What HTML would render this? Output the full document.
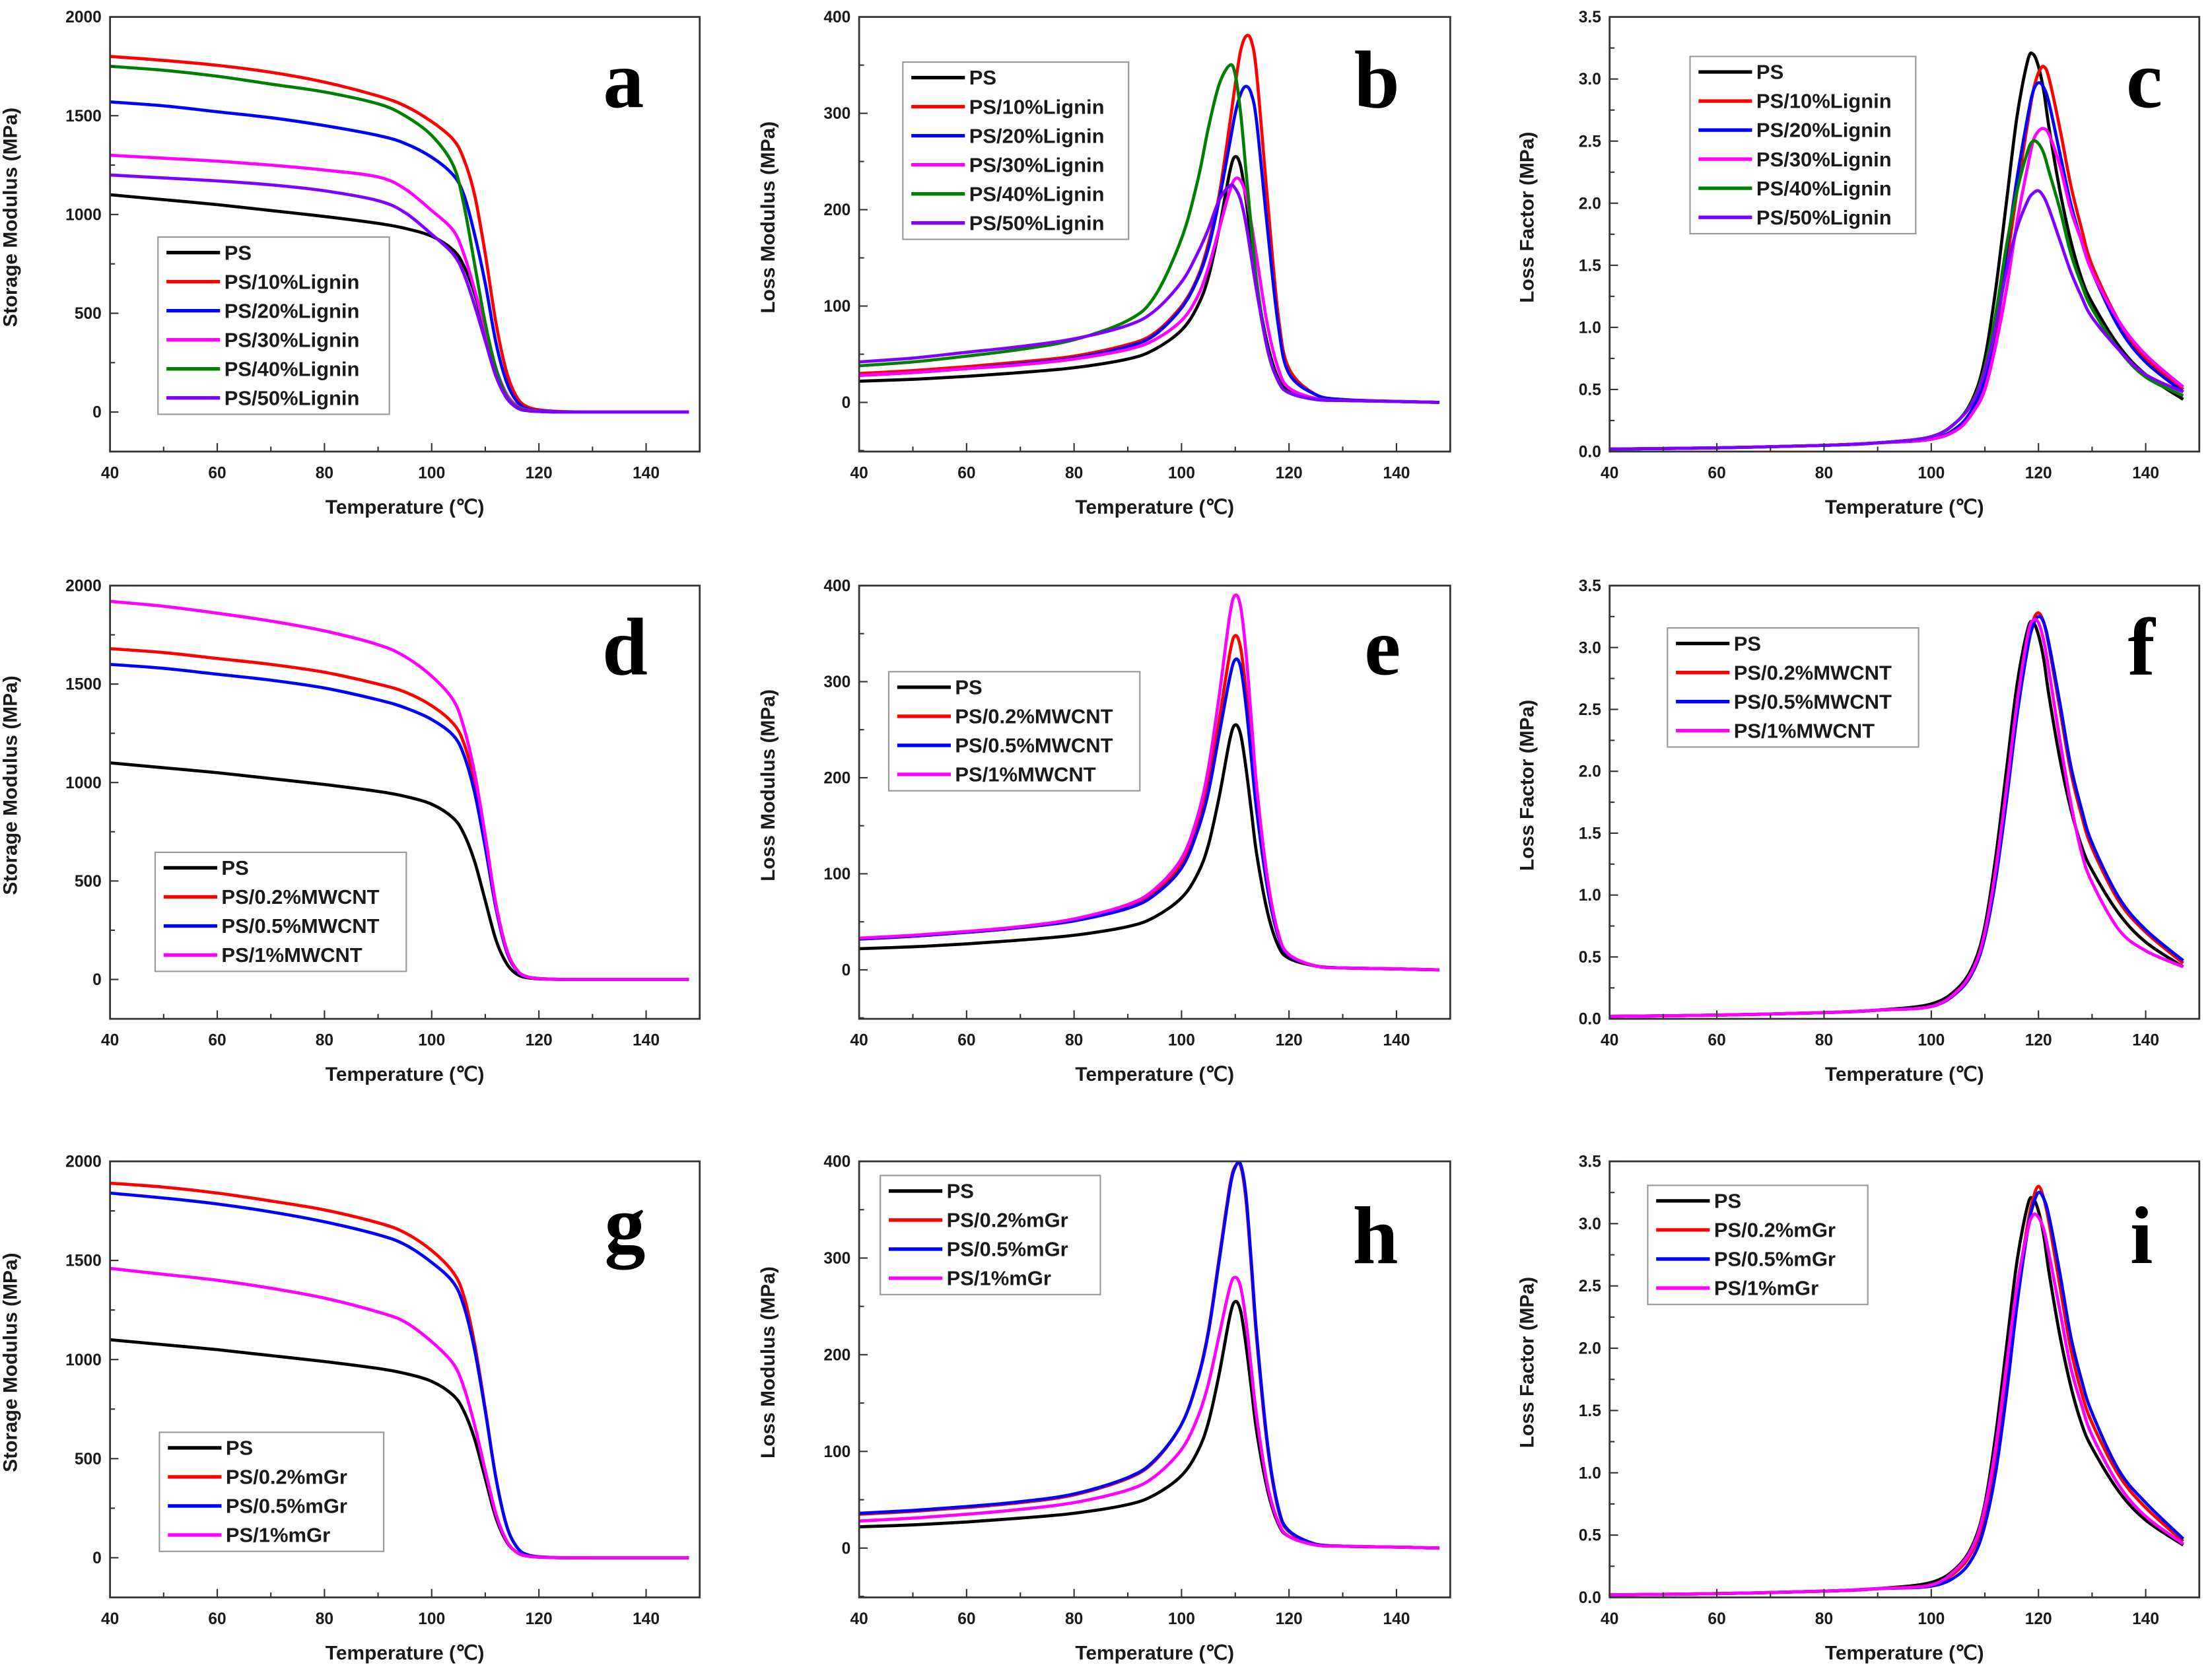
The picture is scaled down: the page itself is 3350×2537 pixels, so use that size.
<!DOCTYPE html>
<html><head><meta charset="utf-8"><style>
html,body{margin:0;padding:0;background:#fff;}
svg{display:block;}
text{font-family:"Liberation Sans",Arial,sans-serif;font-weight:bold;fill:#1a1a1a;}
</style></head><body>
<svg id="fig" width="3350" height="2537" viewBox="0 0 1568 1187" preserveAspectRatio="none" xmlns="http://www.w3.org/2000/svg"></svg>
<script>
// ---- data ----
const tStorage = [40,50,60,70,80,90,95,100,104,106,108,110,112,114,116,118,121,125,130,140,148];
const tLoss = [40,50,60,70,80,90,95,100,103,105,107,109,110,111,112,113,114,116,118,120,125,130,140,148];
const tFactor = [40,60,80,90,100,105,108,110,112,114,116,118,119,120,121,122,124,126,128,130,135,140,147];

const sPS = [1100,1075,1050,1020,990,955,930,890,820,740,600,400,200,80,25,8,2,0,0,0,0];
const sL10 = [1800,1780,1755,1720,1670,1600,1550,1470,1380,1280,1100,800,450,200,70,25,8,2,0,0,0];
const sL20 = [1570,1550,1520,1490,1450,1400,1360,1290,1200,1100,900,650,350,150,50,15,5,0,0,0,0];
const sL30 = [1300,1285,1270,1250,1225,1190,1130,1020,920,800,620,420,220,90,30,10,3,0,0,0,0];
const sL40 = [1750,1730,1700,1660,1620,1560,1500,1400,1250,1050,750,450,220,80,25,8,2,0,0,0,0];
const sL50 = [1200,1185,1170,1150,1120,1070,1010,900,800,700,540,360,180,70,20,6,2,0,0,0,0];
const sC02 = [1680,1660,1630,1600,1560,1500,1460,1390,1300,1200,1000,700,380,150,45,12,3,0,0,0,0];
const sC05 = [1600,1580,1550,1520,1480,1420,1380,1320,1240,1140,950,670,360,140,42,12,3,0,0,0,0];
const sC1 = [1920,1895,1860,1820,1770,1700,1640,1540,1420,1280,1050,730,380,150,45,12,3,0,0,0,0];
const sG02 = [1890,1870,1840,1800,1755,1690,1640,1550,1440,1320,1080,750,400,160,50,14,3,0,0,0,0];
const sG05 = [1840,1815,1785,1745,1695,1630,1580,1490,1390,1270,1050,740,400,160,50,14,3,0,0,0,0];
const sG1 = [1460,1430,1400,1360,1310,1240,1190,1090,980,860,670,440,220,85,25,8,2,0,0,0,0];

const lPS = [22,24,27,31,36,45,55,75,100,130,180,240,255,245,210,165,120,60,25,12,4,2,1,0];
const lL10 = [30,33,37,42,48,60,72,100,130,165,215,290,330,365,380,375,340,210,90,35,8,3,1,0];
const lL20 = [28,31,35,40,46,58,70,98,128,160,210,270,300,320,328,320,290,180,80,30,8,3,1,0];
const lL30 = [28,31,35,39,45,55,65,85,110,140,180,220,232,230,215,185,150,80,35,15,4,2,1,0];
const lL40 = [38,42,48,55,65,85,110,170,230,285,330,350,340,300,240,180,125,55,22,10,3,2,1,0];
const lL50 = [42,46,52,58,66,80,95,125,155,180,210,225,222,210,185,150,115,55,22,10,3,2,1,0];
const lC02 = [32,35,39,44,51,65,80,110,150,195,260,330,348,335,290,230,170,85,35,15,4,2,1,0];
const lC05 = [32,35,39,44,51,64,78,106,145,185,245,305,323,315,275,220,165,85,35,15,4,2,1,0];
const lC1 = [33,36,40,45,53,68,84,116,160,210,285,370,390,378,330,260,190,95,38,16,4,2,1,0];
const lG02 = [35,38,42,47,55,72,90,128,175,225,300,375,395,395,360,290,215,105,40,17,4,2,1,0];
const lG05 = [36,39,43,48,56,73,91,128,174,223,297,372,394,397,365,295,220,108,42,18,4,2,1,0];
const lG1 = [28,31,35,40,47,60,74,102,135,170,220,270,280,270,235,185,135,65,27,12,3,2,1,0];

const fPS = [.02,.03,.05,.07,.12,.25,.45,.75,1.3,2.0,2.7,3.15,3.2,3.1,2.9,2.6,2.1,1.7,1.4,1.2,.85,.62,.42];
const fL10 = [.02,.03,.05,.07,.1,.2,.35,.55,.95,1.5,2.1,2.65,2.9,3.05,3.1,3.0,2.6,2.15,1.8,1.5,1.05,.75,.5];
const fL20 = [.02,.03,.05,.07,.1,.2,.37,.6,1.0,1.6,2.2,2.7,2.9,2.97,2.93,2.8,2.4,2.0,1.7,1.45,1.0,.72,.48];
const fL30 = [.02,.03,.05,.07,.1,.18,.33,.5,.85,1.3,1.85,2.3,2.5,2.58,2.6,2.55,2.3,1.95,1.7,1.45,1.05,.78,.52];
const fL40 = [.02,.03,.05,.07,.12,.25,.43,.68,1.1,1.65,2.1,2.42,2.5,2.48,2.4,2.25,1.95,1.6,1.35,1.15,.82,.6,.45];
const fL50 = [.02,.03,.05,.07,.12,.25,.42,.65,1.0,1.45,1.8,2.02,2.08,2.1,2.05,1.95,1.7,1.45,1.25,1.08,.82,.62,.48];
const fC02 = [.02,.03,.05,.07,.1,.22,.4,.68,1.15,1.8,2.5,3.05,3.22,3.28,3.2,3.0,2.5,2.0,1.65,1.38,.95,.7,.45];
const fC05 = [.02,.03,.05,.07,.1,.22,.4,.66,1.12,1.75,2.45,3.0,3.18,3.25,3.2,3.02,2.55,2.05,1.7,1.42,.98,.72,.47];
const fC1 = [.02,.03,.05,.07,.1,.23,.42,.7,1.2,1.85,2.55,3.1,3.22,3.2,3.05,2.8,2.25,1.75,1.35,1.1,.72,.55,.42];
const fG02 = [.02,.03,.05,.07,.1,.22,.4,.66,1.12,1.75,2.45,3.0,3.2,3.3,3.2,3.0,2.5,2.0,1.65,1.4,.98,.72,.45];
const fG05 = [.02,.03,.05,.07,.09,.18,.34,.58,1.0,1.62,2.35,2.95,3.15,3.25,3.2,3.05,2.6,2.1,1.75,1.48,1.02,.76,.47];
const fG1 = [.02,.03,.05,.07,.1,.24,.43,.72,1.2,1.85,2.5,2.95,3.07,3.05,2.95,2.75,2.3,1.85,1.55,1.3,.9,.65,.43];

const namesLignin = ["PS","PS/10%Lignin","PS/20%Lignin","PS/30%Lignin","PS/40%Lignin","PS/50%Lignin"];
const namesCNT = ["PS","PS/0.2%MWCNT","PS/0.5%MWCNT","PS/1%MWCNT"];
const namesGr = ["PS","PS/0.2%mGr","PS/0.5%mGr","PS/1%mGr"];
const colors6 = ["#000000","#ff0000","#0000ff","#ff00ff","#008000","#8000ff"];
const colors4 = ["#000000","#ff0000","#0000ff","#ff00ff"];

const storageTicks = [0,500,1000,1500,2000];
const lossTicks = [0,100,200,300,400];
const factorTicks = [0.0,0.5,1.0,1.5,2.0,2.5,3.0,3.5];
const xTicks = [40,60,80,100,120,140];

// ---- drawing ----
const NS = "http://www.w3.org/2000/svg";
const svg = document.getElementById("fig");
function mk(tag, attrs, parent){const e=document.createElementNS(NS,tag);for(const k in attrs)e.setAttribute(k,attrs[k]);(parent||svg).appendChild(e);return e;}

const cols = [[78,496],[609,1028],[1141,1559]];
const rows = [[12,320],[415,722],[823,1132]];
const kinds = {
  storage:{min:-200,max:2000,ticks:storageTicks,minor:250,title:"Storage Modulus (MPa)",t:tStorage,fmt:v=>String(v),tx:-66},
  loss:{min:-51,max:400,ticks:lossTicks,minor:50,title:"Loss Modulus (MPa)",t:tLoss,fmt:v=>String(v),tx:-60},
  factor:{min:0,max:3.5,ticks:factorTicks,minor:0.25,title:"Loss Factor (MPa)",t:tFactor,fmt:v=>v.toFixed(1),tx:-54}
};
const panels = [
  {id:"a",c:0,r:0,k:"storage",series:[sPS,sL10,sL20,sL30,sL40,sL50],names:namesLignin,colors:colors6,leg:[112,168,164],let:[442,76]},
  {id:"b",c:1,r:0,k:"loss",series:[lPS,lL10,lL20,lL30,lL40,lL50],names:namesLignin,colors:colors6,leg:[640,44,160],let:[976,76]},
  {id:"c",c:2,r:0,k:"factor",series:[fPS,fL10,fL20,fL30,fL40,fL50],names:namesLignin,colors:colors6,leg:[1198,40,160],let:[1520,76]},
  {id:"d",c:0,r:1,k:"storage",series:[sPS,sC02,sC05,sC1],names:namesCNT,colors:colors4,leg:[110,604,178],let:[443,478]},
  {id:"e",c:1,r:1,k:"loss",series:[lPS,lC02,lC05,lC1],names:namesCNT,colors:colors4,leg:[630,476,178],let:[980,478]},
  {id:"f",c:2,r:1,k:"factor",series:[fPS,fC02,fC05,fC1],names:namesCNT,colors:colors4,leg:[1182,445,178],let:[1518,478]},
  {id:"g",c:0,r:2,k:"storage",series:[sPS,sG02,sG05,sG1],names:namesGr,colors:colors4,leg:[113,1015,159],let:[443,887]},
  {id:"h",c:1,r:2,k:"loss",series:[lPS,lG02,lG05,lG1],names:namesGr,colors:colors4,leg:[624,833,156],let:[975,895]},
  {id:"i",c:2,r:2,k:"factor",series:[fPS,fG02,fG05,fG1],names:namesGr,colors:colors4,leg:[1168,840,156],let:[1518,895]}
];

function smoothPath(pts){
  let d="M"+pts[0][0].toFixed(2)+","+pts[0][1].toFixed(2);
  for(let i=0;i<pts.length-1;i++){
    const p0=pts[Math.max(0,i-1)],p1=pts[i],p2=pts[i+1],p3=pts[Math.min(pts.length-1,i+2)];
    const c1=[p1[0]+(p2[0]-p0[0])/6,p1[1]+(p2[1]-p0[1])/6];
    const c2=[p2[0]-(p3[0]-p1[0])/6,p2[1]-(p3[1]-p1[1])/6];
    d+=" C"+c1[0].toFixed(2)+","+c1[1].toFixed(2)+" "+c2[0].toFixed(2)+","+c2[1].toFixed(2)+" "+p2[0].toFixed(2)+","+p2[1].toFixed(2);
  }
  return d;
}

panels.forEach(p=>{
  const K=kinds[p.k];
  const L=cols[p.c][0],R=cols[p.c][1],T=rows[p.r][0],B=rows[p.r][1];
  const X=v=>L+(v-40)/(150-40)*(R-L);
  const Y=v=>B-(v-K.min)/(K.max-K.min)*(B-T);
  const g=mk("g",{});
  
  
  const sg=mk("g",{},g);
  
  
  p.series.forEach((s,si)=>{
    const pts=K.t.map((t,i)=>[X(t),Y(s[i])]);
    const path=mk("path",{d:smoothPath(pts),fill:"none",stroke:p.colors[si],"stroke-width":2.2,"stroke-linejoin":"round"},sg);
    
    
  });
  const fr=mk("rect",{x:L,y:T,width:R-L,height:B-T,fill:"none",stroke:"#333","stroke-width":1.3},g);
  
  
  for(let v=40;v<=150;v+=10){
    const major=(v%20===0);
    mk("line",{x1:X(v),x2:X(v),y1:B,y2:B-(major?6:3.5),stroke:"#333","stroke-width":1},g);
  }
  xTicks.forEach(v=>{
    const t=mk("text",{x:X(v),y:B+19,"text-anchor":"middle","font-size":11.5},g);
    t.textContent=v;
    
    
  });
  const lo=K.ticks[0],hi=K.ticks[K.ticks.length-1];
  for(let v=lo-K.minor*4;v<=hi+1e-9;v+=K.minor){
    if(Y(v)>B+0.5||Y(v)<T-0.5)continue;
    const major=Math.abs(Math.round(v/(K.minor*2))*(K.minor*2)-v)<1e-6;
    mk("line",{x1:L,x2:L+(major?6:3.5),y1:Y(v),y2:Y(v),stroke:"#333","stroke-width":1},g);
  }
  K.ticks.forEach(v=>{
    const t=mk("text",{x:L-6,y:Y(v)+4,"text-anchor":"end","font-size":11.5},g);
    t.textContent=K.fmt(v);
    
    
  });
  const xt=mk("text",{x:(L+R)/2,y:B+44,"text-anchor":"middle","font-size":14},g);
  xt.textContent="Temperature (℃)";
  
  
  const cy=(T+B)/2-12;
  const yt=mk("text",{x:L+K.tx,y:cy,"text-anchor":"middle","font-size":14,transform:"rotate(-90 "+(L+K.tx)+" "+cy+")"},g);
  yt.textContent=K.title;
  
  
  const n=p.names.length,lx=p.leg[0],ly=p.leg[1],lw=p.leg[2],step=20.6;
  const lg=mk("g",{},g);
  
  
  mk("rect",{x:lx,y:ly,width:lw,height:n*step+2,fill:"#fff",stroke:"#999","stroke-width":1},lg);
  p.names.forEach((nm,i)=>{
    const yy=ly+11+i*step;
    mk("line",{x1:lx+6,x2:lx+44,y1:yy,y2:yy,stroke:p.colors[i],"stroke-width":2.5},lg);
    const t=mk("text",{x:lx+47,y:yy+5,"font-size":14.5},lg);
    t.textContent=nm;
    
    
  });
  const lt=mk("text",{x:p.let[0],y:p.let[1],"text-anchor":"middle","font-size":58,style:"font-family:'Liberation Serif',serif;font-weight:bold;fill:#000"},g);
  lt.textContent=p.id;
  
  
});
</script>
</body></html>
